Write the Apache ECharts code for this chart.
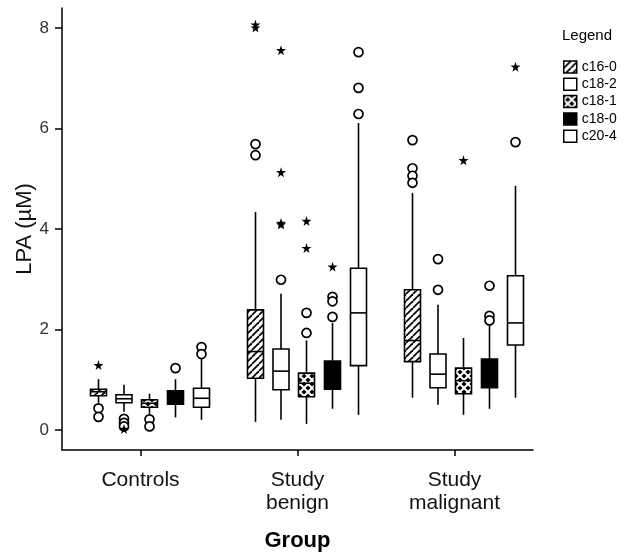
<!DOCTYPE html>
<html>
<head>
<meta charset="utf-8">
<script src="https://cdn.jsdelivr.net/npm/echarts@6/dist/echarts.min.js"></script>
<style>html,body{margin:0;padding:0;background:#fff}#c{width:625px;height:552px}</style>
</head>
<body>
<div id="c"></div>
<script>
// ---- data ----
const groups = ['Controls', 'Study\nbenign', 'Study\nmalignant'];
const seriesNames = ['c16-0', 'c18-2', 'c18-1', 'c18-0', 'c20-4'];
const yTicks = [0, 2, 4, 6, 8];

// box statistics per group: [min, Q1, median, Q3, max]
const c16_0 = [[0.54, 0.68, 0.76, 0.81, 1.01], [0.16, 1.03, 1.56, 2.39, 4.34], [0.64, 1.36, 1.78, 2.79, 4.72]];
const c18_2 = [[0.36, 0.54, 0.62, 0.70, 0.90], [0.20, 0.80, 1.17, 1.61, 2.71], [0.50, 0.84, 1.11, 1.51, 2.49]];
const c18_1 = [[0.32, 0.45, 0.53, 0.60, 0.72], [0.12, 0.66, 0.93, 1.13, 1.78], [0.30, 0.72, 0.98, 1.23, 1.83]];
const c18_0 = [[0.25, 0.51, 0.66, 0.78, 1.01], [0.42, 0.81, 1.10, 1.37, 2.13], [0.42, 0.84, 1.10, 1.41, 2.13]];
const c20_4 = [[0.20, 0.45, 0.63, 0.83, 1.41], [0.30, 1.28, 2.33, 3.22, 6.11], [0.64, 1.69, 2.13, 3.07, 4.86]];

// outliers (circles) [groupIndex, value]
const c16_0_out = [[0, 0.43], [0, 0.26], [1, 5.69], [1, 5.47], [2, 5.77], [2, 5.21], [2, 5.06], [2, 4.92]];
const c18_2_out = [[0, 0.22], [0, 0.14], [0, 0.07], [1, 2.99], [2, 3.40], [2, 2.79]];
const c18_1_out = [[0, 0.21], [0, 0.07], [1, 2.33], [1, 1.93]];
const c18_0_out = [[0, 1.23], [1, 2.65], [1, 2.56], [1, 2.25], [2, 2.87], [2, 2.27], [2, 2.18]];
const c20_4_out = [[0, 1.65], [0, 1.51], [1, 7.52], [1, 6.81], [1, 6.29], [2, 5.73]];

// extremes (stars) [groupIndex, value]
const c16_0_ext = [[0, 1.29], [1, 8.07], [1, 8.01]];
const c18_2_ext = [[0, 0.02], [1, 7.56], [1, 5.13], [1, 4.12], [1, 4.09]];
const c18_1_ext = [[1, 4.16], [1, 3.62], [2, 5.37]];
const c18_0_ext = [[1, 3.25]];
const c20_4_ext = [[2, 7.23]];

const boxData = [c16_0, c18_2, c18_1, c18_0, c20_4];
const outData = [c16_0_out, c18_2_out, c18_1_out, c18_0_out, c20_4_out];
const extData = [c16_0_ext, c18_2_ext, c18_1_ext, c18_0_ext, c20_4_ext];

// ---- styles ----
function hatchPattern() {
  const s = 7, cv = document.createElement('canvas');
  cv.width = s; cv.height = s;
  const ctx = cv.getContext('2d');
  ctx.fillStyle = '#fff'; ctx.fillRect(0, 0, s, s);
  ctx.strokeStyle = '#000'; ctx.lineWidth = 1.8;
  for (let k = -1; k <= 1; k++) {
    ctx.beginPath(); ctx.moveTo(k * s, s); ctx.lineTo(k * s + s, 0); ctx.stroke();
  }
  return { image: cv, repeat: 'repeat' };
}
function diamondPattern() {
  const s = 8, cv = document.createElement('canvas');
  cv.width = s; cv.height = s;
  const ctx = cv.getContext('2d');
  ctx.fillStyle = '#fff'; ctx.fillRect(0, 0, s, s);
  ctx.fillStyle = '#000';
  const r = 2.6;
  const pts = [[4, 4], [0, 0], [8, 0], [0, 8], [8, 8]];
  pts.forEach(p => {
    ctx.beginPath();
    ctx.moveTo(p[0], p[1] - r); ctx.lineTo(p[0] + r, p[1]);
    ctx.lineTo(p[0], p[1] + r); ctx.lineTo(p[0] - r, p[1]); ctx.closePath(); ctx.fill();
  });
  return { image: cv, repeat: 'repeat' };
}
const fills = [hatchPattern(), '#fff', diamondPattern(), '#000', '#fff'];
const offsets = [-42, -16.5, 9, 35, 61];
const boxW = 16;
const LW = 1.6;
const STAR = 'path://M50,0 L61,35 L98,35 L68,57 L79,91 L50,70 L21,91 L32,57 L2,35 L39,35 Z';
const FONT = 'Liberation Sans, Arial, Helvetica, sans-serif';

function makeRender(i) {
  return function (params, api) {
    const g = api.value(0);
    const pMin = api.coord([g, api.value(1)]);
    const pQ1 = api.coord([g, api.value(2)]);
    const pMed = api.coord([g, api.value(3)]);
    const pQ3 = api.coord([g, api.value(4)]);
    const pMax = api.coord([g, api.value(5)]);
    const x = pMin[0] + offsets[i];
    const h = boxW / 2;
    return {
      type: 'group',
      children: [
        { type: 'line', shape: { x1: x, y1: pMax[1], x2: x, y2: pQ3[1] }, style: { stroke: '#000', lineWidth: LW } },
        { type: 'line', shape: { x1: x, y1: pQ1[1], x2: x, y2: pMin[1] }, style: { stroke: '#000', lineWidth: LW } },
        { type: 'rect', shape: { x: x - h, y: pQ3[1], width: boxW, height: pQ1[1] - pQ3[1] }, style: { fill: fills[i], stroke: '#000', lineWidth: LW } },
        { type: 'line', shape: { x1: x - h, y1: pMed[1], x2: x + h, y2: pMed[1] }, style: { stroke: '#000', lineWidth: LW } }
      ]
    };
  };
}

const series = [];
seriesNames.forEach((name, i) => {
  series.push({
    name: name,
    type: 'custom',
    renderItem: makeRender(i),
    itemStyle: { color: fills[i], borderColor: '#000', borderWidth: 1.5 },
    encode: { x: 0, y: [1, 2, 3, 4, 5] },
    data: boxData[i].map((b, g) => [g].concat(b)),
    z: 2
  });
});
seriesNames.forEach((name, i) => {
  series.push({
    name: name + ' outliers',
    type: 'scatter',
    symbol: 'circle',
    symbolSize: 9,
    symbolOffset: [offsets[i], 0],
    itemStyle: { color: '#fff', borderColor: '#000', borderWidth: 1.7, opacity: 1 },
    data: outData[i],
    z: 3
  });
  series.push({
    name: name + ' extremes',
    type: 'scatter',
    symbol: STAR,
    symbolSize: 10,
    symbolOffset: [offsets[i], 0],
    itemStyle: { color: '#000', opacity: 1 },
    data: extData[i],
    z: 3
  });
});

const chart = echarts.init(document.getElementById('c'), null, { renderer: 'canvas' });
chart.setOption({
  animation: false,
  backgroundColor: '#fff',
  textStyle: { fontFamily: FONT },
  title: {
    text: 'Legend', left: 557, top: 23,
    textStyle: { fontSize: 15, fontWeight: 'normal', color: '#000', fontFamily: FONT }
  },
  legend: {
    data: seriesNames,
    orient: 'vertical',
    left: 558, top: 55,
    itemWidth: 13, itemHeight: 12, itemGap: 3.3,
    icon: 'rect',
    itemStyle: { borderColor: '#000', borderWidth: 1.5 },
    textStyle: { fontSize: 14, color: '#000', fontFamily: FONT },
    selectedMode: false
  },
  grid: { left: 62, right: 92, top: 8, bottom: 102, containLabel: false, outerBoundsMode: 'none' },
  xAxis: {
    type: 'category',
    data: groups,
    boundaryGap: true,
    axisLine: { show: true, onZero: false, lineStyle: { color: '#000', width: 1.5 } },
    axisTick: { show: true, alignWithLabel: true, length: 6, lineStyle: { color: '#000', width: 1.5 } },
    axisLabel: { margin: 19, fontSize: 21, lineHeight: 23, color: '#111', fontFamily: FONT },
    splitLine: { show: false },
    name: 'Group', nameLocation: 'middle', nameGap: 80, nameMoveOverlap: false,
    nameTextStyle: { fontSize: 22, fontWeight: 'bold', color: '#000', fontFamily: FONT }
  },
  yAxis: {
    type: 'value',
    min: -0.4, max: 8.4,
    axisLine: { show: true, onZero: false, lineStyle: { color: '#000', width: 1.5 } },
    axisTick: { show: true, length: 7, customValues: yTicks, lineStyle: { color: '#000', width: 1.5 } },
    axisLabel: { customValues: yTicks, margin: 13, fontSize: 17, color: '#333', fontFamily: FONT },
    splitLine: { show: false },
    name: 'LPA (µM)', nameLocation: 'middle', nameGap: 26, nameMoveOverlap: false,
    nameTextStyle: { fontSize: 22, color: '#111', fontFamily: FONT }
  },
  series: series
});
</script>
</body>
</html>
